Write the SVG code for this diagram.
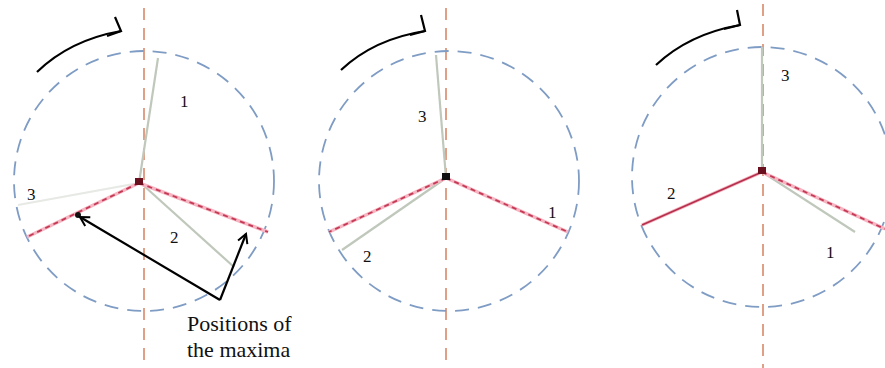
<svg xmlns="http://www.w3.org/2000/svg" width="885" height="368" viewBox="0 0 885 368">
<defs>
<style>
.axis{stroke:#d9896a;stroke-width:1.6;stroke-dasharray:12 8;fill:none}
.circ{stroke:#7f9cc4;stroke-width:1.8;stroke-dasharray:14 9;fill:none}
.redbg{stroke:#f6b5c2;stroke-width:3.5;fill:none}
.redd{stroke:#c43a55;stroke-width:1.8;stroke-dasharray:5 4;fill:none}
.blade{stroke:#bfc8bb;stroke-width:2.2;fill:none}
.bladef{stroke:#e6e9e4;stroke-width:2;fill:none}
.blk{stroke:#000;stroke-width:2.2;fill:none}
.lbl{font-family:"Liberation Serif",serif;font-size:17px;fill:#111}
.note{font-family:"Liberation Serif",serif;font-size:22px;fill:#111}
</style>
<marker id="ah" viewBox="0 0 12 12" refX="10" refY="6" markerWidth="12" markerHeight="12" markerUnits="userSpaceOnUse" orient="auto">
<path d="M1,1 L10,6 L1,11" fill="none" stroke="#000" stroke-width="2"/>
</marker>
</defs>

<g id="panel1">
<line class="axis" x1="144" y1="8" x2="144" y2="368"/>
<circle class="circ" cx="144" cy="181" r="130"/>
<line class="bladef" x1="139" y1="183" x2="18" y2="205"/>
<line class="blade" x1="139" y1="183" x2="158" y2="58"/>
<line class="blade" x1="143" y1="185" x2="234" y2="267"/>
<line class="redbg" x1="139" y1="183" x2="27" y2="237"/>
<line class="redd" x1="139" y1="183" x2="27" y2="237"/>
<line class="redbg" x1="139" y1="183" x2="268" y2="232"/>
<line class="redd" x1="139" y1="183" x2="268" y2="232"/>
<rect x="135" y="178" width="8" height="7" fill="#6a0f1e"/>
<circle cx="78" cy="215" r="3" fill="#111"/>
<text class="lbl" x="180" y="107">1</text>
<text class="lbl" x="170" y="243">2</text>
<text class="lbl" x="27" y="200">3</text>
<path class="blk" d="M37,72 Q70,40 121,31"/>
<path class="blk" d="M115,17 L121,31 L107,36"/>
</g>

<g id="annotation">
<path class="blk" d="M220,300 L80,217" marker-end="url(#ah)"/>
<path class="blk" d="M220,300 L246,234" marker-end="url(#ah)"/>
<text class="note" x="187" y="331">Positions of</text>
<text class="note" x="187" y="357">the maxima</text>
</g>

<g id="panel2">
<line class="axis" x1="446" y1="8" x2="446" y2="368"/>
<circle class="circ" cx="449" cy="181" r="130"/>
<line class="blade" x1="446" y1="178" x2="436" y2="55"/>
<line class="blade" x1="446" y1="178" x2="342" y2="250"/>
<line class="redbg" x1="446" y1="178" x2="329" y2="232"/>
<line class="redd" x1="446" y1="178" x2="329" y2="232"/>
<line class="redbg" x1="446" y1="178" x2="568" y2="232"/>
<line class="redd" x1="446" y1="178" x2="568" y2="232"/>
<rect x="442" y="173" width="8" height="7" fill="#111"/>
<text class="lbl" x="418" y="122">3</text>
<text class="lbl" x="548" y="218">1</text>
<text class="lbl" x="363" y="262">2</text>
<path class="blk" d="M341,70 Q374,39 425,31"/>
<path class="blk" d="M421,15 L425,31 L410,35"/>
</g>

<g id="panel3">
<line class="axis" x1="763" y1="4" x2="763" y2="368"/>
<circle class="circ" cx="762" cy="177" r="130"/>
<line class="blade" x1="762" y1="172" x2="762" y2="47"/>
<line class="blade" x1="762" y1="172" x2="855" y2="232"/>
<line class="redbg" x1="762" y1="172" x2="642" y2="225"/>
<line class="redd" x1="762" y1="172" x2="642" y2="225" style="stroke-dasharray:none;stroke:#b5304c"/>
<line class="redbg" x1="762" y1="172" x2="885" y2="229"/>
<line class="redd" x1="762" y1="172" x2="885" y2="229"/>
<rect x="758" y="167" width="8" height="7" fill="#6a0f1e"/>
<text class="lbl" x="781" y="81">3</text>
<text class="lbl" x="667" y="199">2</text>
<text class="lbl" x="826" y="258">1</text>
<path class="blk" d="M656,65 Q689,34 740,25"/>
<path class="blk" d="M737,10 L740,25 L724,29"/>
</g>
</svg>
